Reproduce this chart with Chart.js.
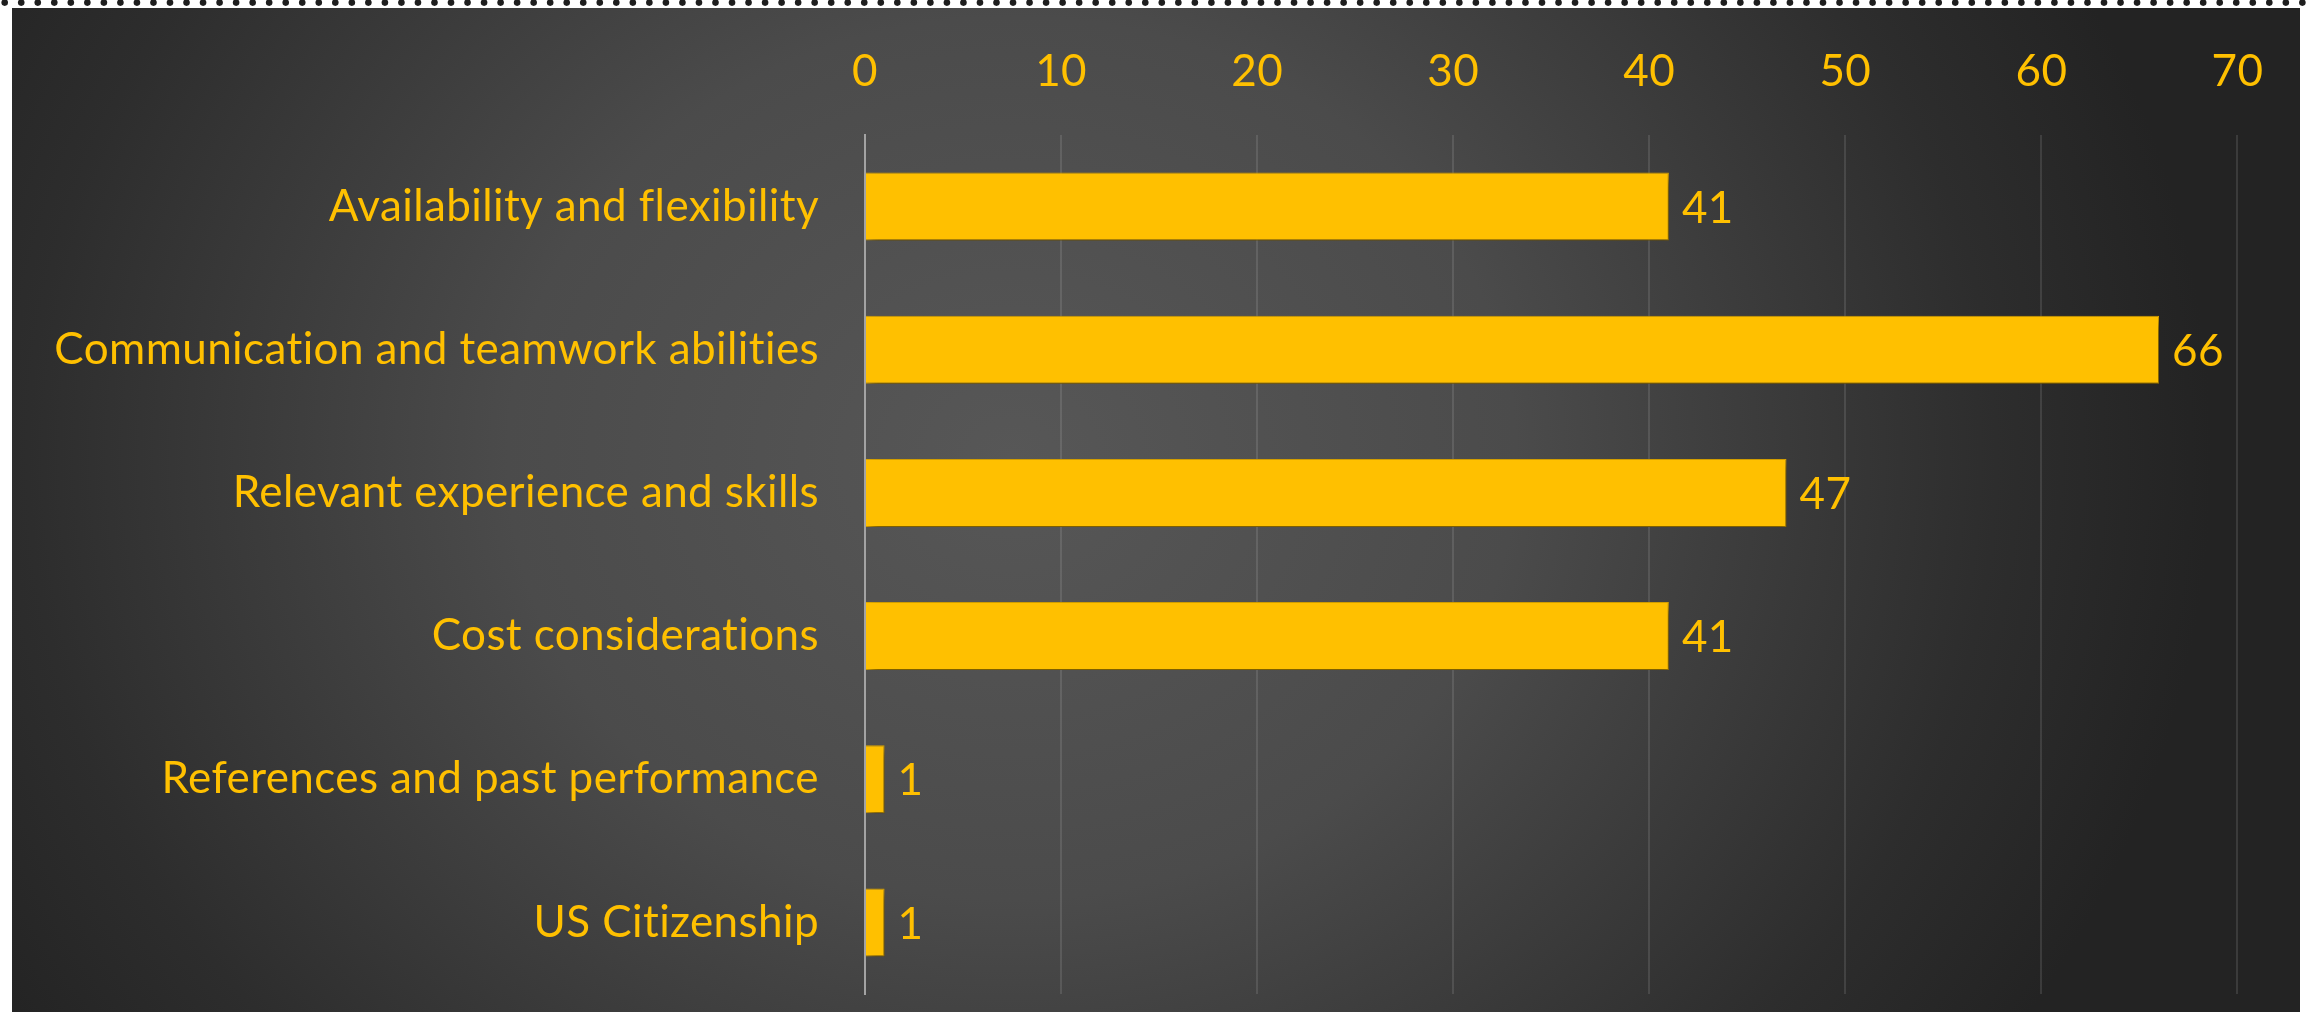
<!DOCTYPE html>
<html>
<head>
<meta charset="utf-8">
<script src="https://cdn.jsdelivr.net/npm/chart.js@4.4.0/dist/chart.umd.min.js"></script>
<style>
  html, body { margin: 0; padding: 0; background: #fff; }
  body { width: 2315px; height: 1012px; position: relative; overflow: hidden; }
  #dots { position: absolute; left: 0; top: 0; }
  .panel {
    position: absolute; left: 12px; top: 8px; width: 2288px; height: 1004px;
    background: radial-gradient(ellipse 1200px 1050px at 1000px 450px,
      #575757 0%, #4b4b4b 42%, #2d2d2d 82%, #232323 100%);
  }
  canvas { display: block; }
</style>
</head>
<body>
<canvas id="dots" width="2315" height="8"></canvas>
<div class="panel"><canvas id="chart"></canvas></div>
<script>
// categories top to bottom
const categories = [
  'Availability and flexibility',
  'Communication and teamwork abilities',
  'Relevant experience and skills',
  'Cost considerations',
  'References and past performance',
  'US Citizenship'
];
const counts = [41, 66, 47, 41, 1, 1];
const xTickValues = [0, 10, 20, 30, 40, 50, 60, 70];

const gold = '#FFC000';
const fontFamily = 'Lato, "Open Sans", sans-serif';
const fontSize = 44;

// dotted rule along the top edge
const dctx = document.getElementById('dots').getContext('2d');
dctx.fillStyle = '#1e1e1e';
for (let x = 4.7; x < 2320; x += 16.53) {
  dctx.beginPath();
  dctx.arc(x, 2.6, 3.3, 0, Math.PI * 2);
  dctx.fill();
}

// no "ti" ligatures, Calibri-ish spacing
const textSpacing = {
  id: 'textSpacing',
  beforeDraw(chart) { chart.ctx.letterSpacing = '0.4px'; }
};

// drop shadow under the bars
const barShadow = {
  id: 'barShadow',
  beforeDatasetsDraw(chart) {
    const c = chart.ctx;
    c.save();
    c.shadowColor = 'rgba(0,0,0,0.55)';
    c.shadowBlur = 10;
    c.shadowOffsetX = 4;
    c.shadowOffsetY = 5;
  },
  afterDatasetsDraw(chart) {
    chart.ctx.restore();
  }
};

// value labels at the end of each bar
const valueLabels = {
  id: 'valueLabels',
  afterDatasetsDraw(chart) {
    const c = chart.ctx;
    const meta = chart.getDatasetMeta(0);
    c.save();
    c.fillStyle = gold;
    c.font = fontSize + 'px ' + fontFamily;
    c.textAlign = 'left';
    c.textBaseline = 'middle';
    meta.data.forEach((bar, i) => {
      c.fillText(String(counts[i]), bar.x + 13, bar.y + 2);
    });
    c.restore();
  }
};

const canvas = document.getElementById('chart');
canvas.width = 2288;
canvas.height = 1004;

new Chart(canvas.getContext('2d'), {
  type: 'bar',
  data: {
    labels: categories,
    datasets: [{
      data: counts,
      backgroundColor: gold,
      borderColor: '#E3AB00',
      borderWidth: 1,
      borderSkipped: 'start',
      barPercentage: 0.475,
      categoryPercentage: 1
    }]
  },
  options: {
    indexAxis: 'y',
    responsive: false,
    animation: false,
    events: [],
    layout: { padding: { left: 0, top: 0, right: 61, bottom: 18 } },
    plugins: {
      legend: { display: false },
      tooltip: { enabled: false }
    },
    scales: {
      x: {
        position: 'top',
        min: 0,
        max: 70,
        afterBuildTicks(scale) {
          scale.ticks = xTickValues.map(v => ({ value: v }));
        },
        afterFit(scale) { scale.height = 127; },
        grid: {
          color: 'rgba(255,255,255,0.11)',
          lineWidth: 2,
          drawTicks: false
        },
        border: { display: false },
        ticks: {
          color: gold,
          padding: 37,
          font: { family: fontFamily, size: fontSize, lineHeight: 1.2 }
        }
      },
      y: {
        afterFit(scale) {
          scale.width = 853;
          scale.paddingTop = 0;
          scale.paddingBottom = 0;
        },
        grid: { display: false, drawTicks: false },
        border: { display: true, color: '#a3a3a3', width: 2 },
        ticks: {
          color: gold,
          padding: 46,
          font: { family: fontFamily, size: fontSize, lineHeight: 1.2 }
        }
      }
    }
  },
  plugins: [textSpacing, barShadow, valueLabels]
});
</script>
</body>
</html>
